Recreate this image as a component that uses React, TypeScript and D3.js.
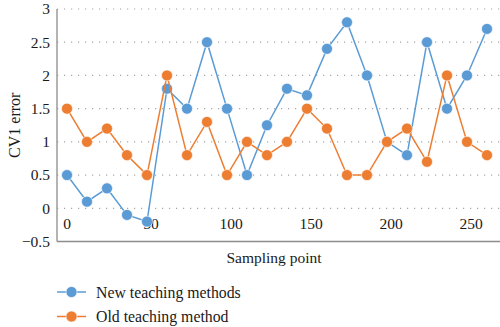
import React from "react";
import * as d3 from "d3";

const xValues = [0, 12.5, 25, 37.5, 50, 62.5, 75, 87.5, 100, 112.5, 125, 137.5, 150, 162.5, 175, 187.5, 200, 212.5, 225, 237.5, 250, 262.5];
const newMethod = [0.5, 0.1, 0.3, -0.1, -0.2, 1.8, 1.5, 2.5, 1.5, 0.5, 1.25, 1.8, 1.7, 2.4, 2.8, 2.0, 1.0, 0.8, 2.5, 1.5, 2.0, 2.7];
const oldMethod = [1.5, 1.0, 1.2, 0.8, 0.5, 2.0, 0.8, 1.3, 0.5, 1.0, 0.8, 1.0, 1.5, 1.2, 0.5, 0.5, 1.0, 1.2, 0.7, 2.0, 1.0, 0.8];
const yTicks = [-0.5, 0, 0.5, 1, 1.5, 2, 2.5, 3];
const xTicks = [0, 50, 100, 150, 200, 250];
const seriesNames = ["New teaching methods", "Old teaching method"];
const colors = ["#5B9BD5", "#ED7D31"];

export default function App() {
  const W = 500, H = 327;
  const left = 57, right = 500;
  const x = d3.scaleLinear().domain([0, 262.5]).range([67, 487]);
  const y = d3.scaleLinear().domain([-0.5, 3]).range([241.5, 9]);
  const fs = { fontFamily: "Liberation Serif, DejaVu Serif, serif" };
  const series = [newMethod, oldMethod];
  const line = d3.line<number>().x((_, i) => x(xValues[i])).y((d) => y(d));

  return (
    <svg width={W} height={H} style={{ position: "absolute", left: 0, top: 0, background: "#fff" }}>
      {yTicks.filter((t) => t > -0.5).map((t) => (
        <line key={t} x1={left} x2={right} y1={y(t)} y2={y(t)} stroke="#A6A6A6" strokeWidth={1.2} strokeDasharray="1.2 5.8" />
      ))}
      <line x1={left} x2={right} y1={y(-0.5)} y2={y(-0.5)} stroke="#8C8C8C" strokeWidth={1.3} />
      <line x1={left} x2={left} y1={y(3)} y2={y(-0.5)} stroke="#8C8C8C" strokeWidth={1.3} />
      {yTicks.map((t) => (
        <text key={t} x={50} y={y(t)} dy="0.35em" textAnchor="end" fontSize={15.5} fill="#1a1a1a" style={fs}>
          {t < 0 ? "\u2212" + Math.abs(t) : String(t)}
        </text>
      ))}
      {xTicks.map((t) => (
        <text key={t} x={x(t) + (t === 0 ? 0 : 4)} y={224} dy="0.35em" textAnchor="middle" fontSize={15.5} fill="#1a1a1a" style={fs}>
          {t}
        </text>
      ))}
      <text x={274} y={258} dy="0.35em" textAnchor="middle" fontSize={15.5} fill="#1a1a1a" style={fs}>Sampling point</text>
      <text transform={`translate(14,${y(1.25)}) rotate(-90)`} dy="0.35em" textAnchor="middle" fontSize={16} fill="#1a1a1a" style={fs}>CV1 error</text>
      {series.map((s, si) => (
        <g key={si}>
          <path d={line(s) || ""} fill="none" stroke={colors[si]} strokeWidth={1.5} />
          {s.map((v, i) => (
            <circle key={i} cx={x(xValues[i])} cy={y(v)} r={5.5} fill={colors[si]} stroke="#fff" strokeWidth={0.6} />
          ))}
        </g>
      ))}
      {seriesNames.map((n, i) => (
        <g key={n} transform={`translate(0,${292 + i * 24.5})`}>
          <line x1={57} x2={86} y1={0} y2={0} stroke={colors[i]} strokeWidth={1.5} />
          <circle cx={71.5} cy={0} r={5.5} fill={colors[i]} stroke="#fff" strokeWidth={0.6} />
          <text x={96} y={0} dy="0.35em" fontSize={15.8} fill="#1a1a1a" style={fs}>{n}</text>
        </g>
      ))}
    </svg>
  );
}
